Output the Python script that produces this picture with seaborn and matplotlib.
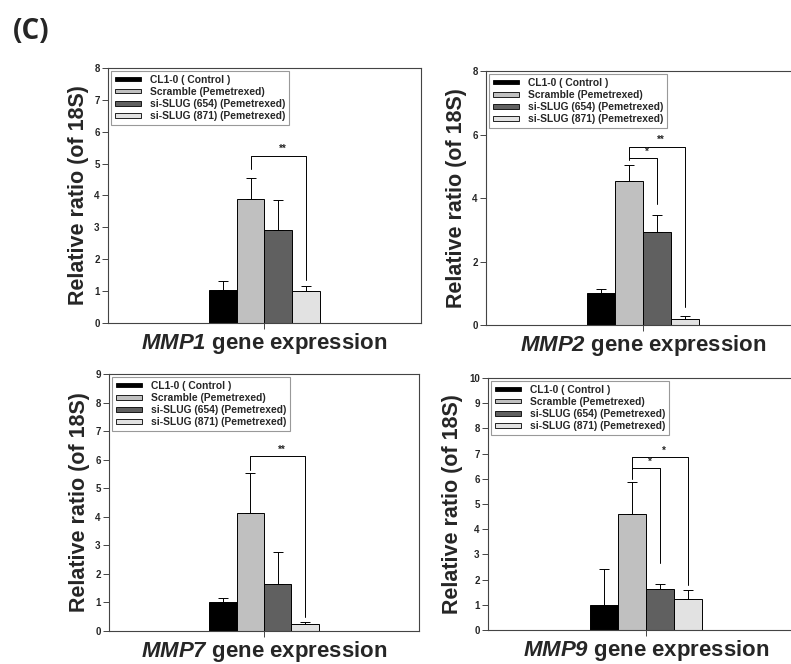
import matplotlib
matplotlib.use("Agg")
import matplotlib.pyplot as plt
from matplotlib.patches import Patch
import pandas as pd
import seaborn as sns

# group names and bar colours (shared by all four panels)
groups = ["CL1-0 ( Control )", "Scramble (Pemetrexed)",
          "si-SLUG (654) (Pemetrexed)", "si-SLUG (871) (Pemetrexed)"]
colors = ["#000000", "#c0c0c0", "#606060", "#e2e2e2"]

genes = ["MMP1", "MMP2", "MMP7", "MMP9"]

# mean values
mmp1 = [1.03, 3.89, 2.93, 0.99]
mmp2 = [1.00, 4.54, 2.94, 0.18]
mmp7 = [1.00, 4.15, 1.65, 0.25]
mmp9 = [0.99, 4.60, 1.63, 1.22]

# upper error (SD)
mmp1_err = [0.30, 0.66, 0.93, 0.16]
mmp2_err = [0.15, 0.49, 0.51, 0.10]
mmp7_err = [0.14, 1.38, 1.13, 0.07]
mmp9_err = [1.43, 1.27, 0.18, 0.38]

# significance brackets: (from bar, to bar, height, left leg end, right leg end, label)
mmp1_sig = [(1, 3, 5.25, 4.83, 1.36, "**")]
mmp2_sig = [(1, 3, 5.61, 5.20, 0.58, "**"), (1, 2, 5.25, 5.25, 3.80, "*")]
mmp7_sig = [(1, 3, 6.13, 5.64, 0.50, "**")]
mmp9_sig = [(1, 3, 6.86, 6.00, 1.79, "*"), (1, 2, 6.42, 6.42, 2.65, "*")]

y_max = [8, 8, 9, 10]
y_step = [1, 2, 1, 1]

values = [mmp1, mmp2, mmp7, mmp9]
errors = [mmp1_err, mmp2_err, mmp7_err, mmp9_err]
sigs = [mmp1_sig, mmp2_sig, mmp7_sig, mmp9_sig]

df = pd.DataFrame({
    "gene": [g for g in genes for _ in groups],
    "group": groups * len(genes),
    "value": [v for vals in values for v in vals],
    "err": [e for errs in errors for e in errs],
})

sns.set_style("white")
plt.rcParams["font.family"] = ["Liberation Sans", "DejaVu Sans"]
plt.rcParams["mathtext.fontset"] = "custom"
plt.rcParams["mathtext.rm"] = "Liberation Sans"
plt.rcParams["mathtext.bf"] = "Liberation Sans:bold"
plt.rcParams["mathtext.it"] = "Liberation Sans:italic"
plt.rcParams["mathtext.bfit"] = "Liberation Sans:italic:bold"

fig = plt.figure(figsize=(7.91, 6.64), dpi=100)

# axes rectangles in figure fractions (left, bottom, width, height)
boxes = [
    (0.1365, 0.5136, 0.3955, 0.3840),
    (0.6144, 0.5105, 0.3970, 0.3825),
    (0.1378, 0.0497, 0.3919, 0.3870),
    (0.6170, 0.0512, 0.3995, 0.3795),
]

for k, gene in enumerate(genes):
    ax = fig.add_axes(boxes[k])
    sub = df[df.gene == gene]
    sns.barplot(data=sub, x="gene", y="value", hue="group", hue_order=groups,
                palette=colors, width=0.8, edgecolor="black", linewidth=0.7,
                legend=False, errorbar=None, ax=ax)

    bars = [p for p in ax.patches][:len(groups)]
    centers = [b.get_x() + b.get_width() / 2 for b in bars]
    heights = [b.get_height() for b in bars]
    ax.errorbar(centers, heights, yerr=[[0] * 4, errors[k]], fmt="none",
                ecolor="black", elinewidth=0.7, capsize=3.5, capthick=0.7, zorder=1)

    for i, j, h, yl, yr, lab in sigs[k]:
        ax.plot([centers[i], centers[i], centers[j], centers[j]], [yl, h, h, yr],
                color="black", lw=0.7)
        ax.text((centers[i] + centers[j]) / 2 + 0.03, h + 0.05 * y_max[k] / 8, lab,
                ha="center", va="bottom", fontsize=7, fontweight="bold")

    ax.set_xlim(-1.128, 1.128)
    ax.set_ylim(0, y_max[k])
    ax.set_yticks(range(0, y_max[k] + 1, y_step[k]))
    ax.set_xticks([0])
    ax.set_xticklabels([""])
    ax.tick_params(axis="both", direction="out", length=4, width=0.7,
                   labelsize=7, color="#444444", bottom=True, left=True, pad=2)
    for t in ax.get_yticklabels():
        t.set_fontweight("bold")
    for s in ax.spines.values():
        s.set_color("#444444")
        s.set_linewidth(0.8)

    ax.set_ylabel("Relative ratio (of 18S)", fontsize=15.5, fontweight="bold",
                  labelpad=4)
    ax.set_xlabel(r"$\mathbfit{" + gene + "}$ gene expression", fontsize=16,
                  fontweight="bold", labelpad=0)

    handles = [Patch(facecolor=c, edgecolor="black", linewidth=0.6) for c in colors]
    leg = ax.legend(handles, groups, loc="upper left",
                    prop={"weight": "bold", "size": 7.4}, frameon=True,
                    fancybox=False, edgecolor="#999999", framealpha=1,
                    handlelength=2.6, handleheight=0.35, labelspacing=0.2,
                    borderaxespad=0.25, borderpad=0.4, handletextpad=0.8)
    leg.get_frame().set_linewidth(0.8)

fig.text(0.016, 0.942, "(C)", fontsize=20, fontweight="bold", family="Open Sans")

fig.savefig("out.png", dpi=100)
